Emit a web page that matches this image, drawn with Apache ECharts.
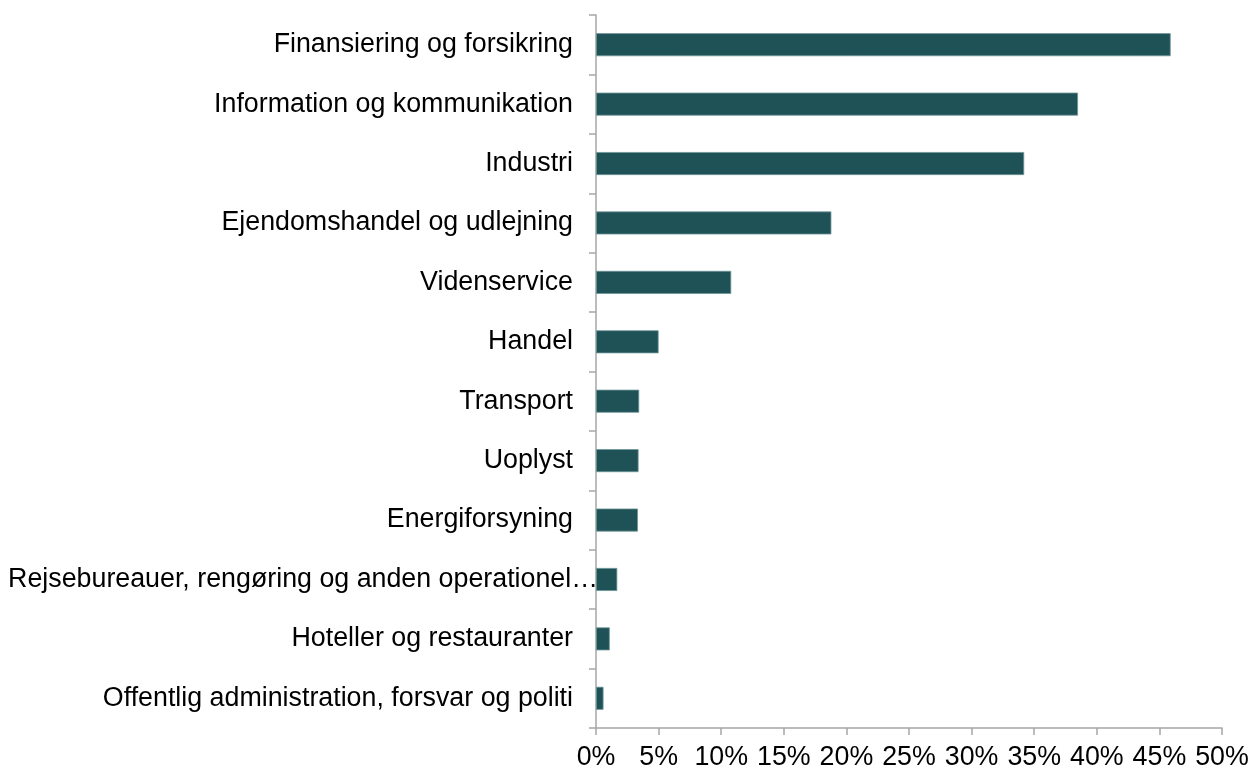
<!DOCTYPE html>
<html>
<head>
<meta charset="utf-8">
<script src="https://cdn.jsdelivr.net/npm/echarts@6/dist/echarts.min.js"></script>
<style>
  html, body { margin: 0; padding: 0; background: #fff; }
  #chart { width: 1252px; height: 771px; }
</style>
</head>
<body>
<div id="chart"></div>
<script>
// brancher, fra øverst til nederst
var categories = [
  'Finansiering og forsikring',
  'Information og kommunikation',
  'Industri',
  'Ejendomshandel og udlejning',
  'Videnservice',
  'Handel',
  'Transport',
  'Uoplyst',
  'Energiforsyning',
  'Rejsebureauer, rengøring og anden operationel…',
  'Hoteller og restauranter',
  'Offentlig administration, forsvar og politi'
]
var values = [45.9, 38.5, 34.2, 18.8, 10.8, 5.0, 3.45, 3.4, 3.35, 1.7, 1.1, 0.6]
var xTicks = [0, 5, 10, 15, 20, 25, 30, 35, 40, 45, 50]

var myChart = echarts.init(document.getElementById('chart'))

// category axis goes bottom-up, so reverse
var catData = categories.slice().reverse().map(function (c) {
  if (c.indexOf('Rejsebureauer') === 0) {
    return { value: c, textStyle: { padding: [0, -25, 0, 0] } }
  }
  return c
})

var option = {
  animation: false,
  grid: {
    left: 596,
    right: 30,
    top: 15,
    bottom: 41
  },
  xAxis: {
    type: 'value',
    min: xTicks[0],
    max: xTicks[xTicks.length - 1],
    interval: 5,
    splitLine: { show: false },
    axisLine: { show: true, lineStyle: { color: '#a6a6a6', width: 1.5 } },
    axisTick: { show: true, length: 7, lineStyle: { color: '#a6a6a6', width: 1.5 } },
    axisLabel: {
      formatter: '{value}%',
      color: '#000',
      fontSize: 26.8,
      fontFamily: 'Liberation Sans, Arial',
      margin: 16
    }
  },
  yAxis: {
    type: 'category',
    data: catData,
    axisLine: { show: true, lineStyle: { color: '#a6a6a6', width: 1.5 } },
    axisTick: { show: true, length: 7, alignWithLabel: false, lineStyle: { color: '#a6a6a6', width: 1.5 } },
    axisLabel: {
      color: '#000',
      fontSize: 26.8,
      fontFamily: 'Liberation Sans, Arial',
      margin: 23,
      interval: 0
    }
  },
  series: [
    {
      type: 'bar',
      data: values.slice().reverse(),
      barWidth: 23,
      itemStyle: {
        color: '#1f5257',
        borderColor: '#6f9598',
        borderWidth: 0.8
      }
    }
  ]
}
myChart.setOption(option)
</script>
</body>
</html>
